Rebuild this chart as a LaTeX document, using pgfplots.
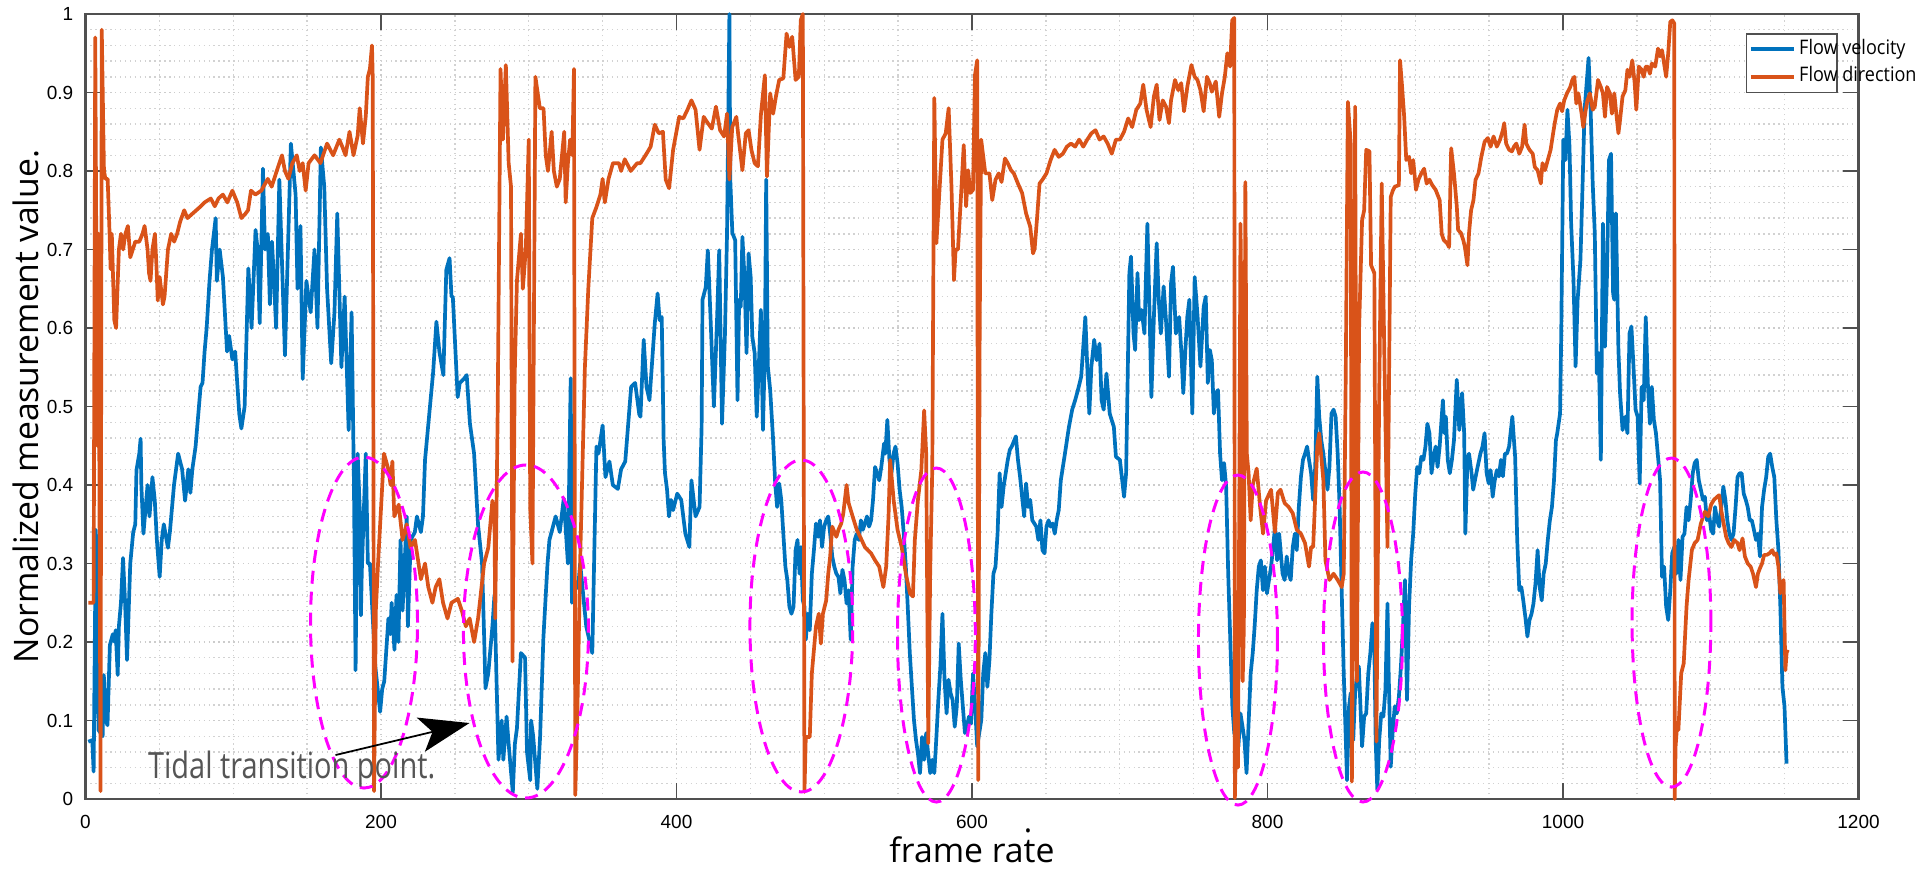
\documentclass[border=0pt]{standalone}
\usepackage{pgfplots}
\pgfplotsset{compat=1.18}
\usepackage{fontspec}
\setmainfont{Open Sans}
\newfontfamily\tickfont{Liberation Sans}
\usetikzlibrary{arrows.meta}
\definecolor{mblue}{RGB}{0,114,189}
\definecolor{morange}{RGB}{217,83,25}
\definecolor{axgray}{RGB}{80,80,80}
\definecolor{ellmag}{RGB}{255,0,255}

\begin{document}
\begin{tikzpicture}
\useasboundingbox (0,0) rectangle (19.2,8.79);
\begin{axis}[
    at={(0.855cm,0.80cm)}, anchor=south west,
    scale only axis, width=17.73cm, height=7.85cm,
    xmin=0, xmax=1200, ymin=0, ymax=1,
    xtick={0,200,...,1200},
    ytick={0,0.1,0.2,0.3,0.4,0.5,0.6,0.7,0.8,0.9,1},
    minor x tick num=3, minor y tick num=4,
    grid=both,
    major grid style={gray!40, densely dotted, line width=0.5pt},
    minor grid style={gray!35, densely dotted, line width=0.4pt},
    tick align=inside, major tick length=0.16cm, minor tick length=0pt,
    tick style={axgray, line width=0.5pt},
    axis line style={axgray, line width=0.6pt},
    clip=false, no markers,
    /pgf/number format/assume math mode=true,
    /pgf/number format/1000 sep={},
    ticklabel style={font=\tickfont\fontsize{5.4pt}{6pt}\selectfont},
    yticklabel style={anchor=east, inner sep=0pt, xshift=-0.115cm},
    xticklabel style={anchor=north, inner sep=0pt, yshift=-0.16cm},
    xlabel={frame rate},
    ylabel={Normalized measurement value.},
    label style={font=\fontsize{9.6pt}{11pt}\selectfont},
    xlabel style={at={(axis description cs:0.5,-0.0815)}, anchor=base},
    ylabel style={at={(axis description cs:-0.0265,0.5)}, anchor=base},
    legend style={at={(axis description cs:1,1)}, anchor=north west,
        xshift=-1.13cm, yshift=-0.19cm, draw=axgray, line width=0.5pt,
        fill=white, font=\fontsize{5.7pt}{6.5pt}\selectfont,
        inner xsep=0.7pt, inner ysep=0.5pt, row sep=0pt,
        nodes={inner sep=1pt}},
    legend cell align=left,
    legend image code/.code={\draw[#1, line width=1.1pt] (0cm,0cm) -- (0.43cm,0cm);},
]

% Flow velocity
\addplot[mblue, line width=1.05pt, line join=round] coordinates {
(1.9,0.073)(4.6,0.075)(5.5,0.035)(7.0,0.343)(8.8,0.088)(11.6,0.08)(12.4,0.158)(13.8,0.10)(14.9,0.094)(16.5,0.196)
(18.5,0.21)(19.8,0.20)(20.4,0.215)(21.8,0.158)(22.6,0.22)(24,0.25)(25.4,0.307)(26.8,0.25)(28.1,0.177)(30.3,0.30)
(32.3,0.34)(33.7,0.35)(34.5,0.419)(36.4,0.44)(37.3,0.459)(37.8,0.40)(39.2,0.338)(42,0.40)(43.3,0.36)(45.3,0.41)
(46.9,0.38)(48.3,0.33)(50.2,0.283)(51.6,0.33)(53,0.35)(55.8,0.32)(57.1,0.34)(59.9,0.40)(62.7,0.44)(65.4,0.42)
(67.4,0.38)(69.6,0.42)(71,0.39)(72.3,0.42)(74.5,0.449)(77.9,0.525)(79.2,0.53)(80.6,0.57)(82,0.60)(83.9,0.659)
(85.6,0.70)(88.1,0.740)(88.9,0.66)(90.8,0.70)(93,0.665)(95,0.597)(95.8,0.57)(97.2,0.59)(99.4,0.56)(101.3,0.57)
(102.7,0.53)(104.1,0.49)(105.5,0.472)(107.7,0.50)(109.1,0.597)(110.2,0.676)(111.6,0.63)(112.4,0.60)(115.1,0.725)(116.5,0.70)
(117.9,0.606)(120.1,0.803)(121.5,0.70)(123.4,0.72)(124.8,0.63)(126.2,0.71)(127.6,0.66)(129,0.60)(131.2,0.789)(135,0.565)
(139,0.835)(142.2,0.77)(143.5,0.65)(145.5,0.73)(147,0.535)(149.5,0.66)(152.4,0.62)(155,0.70)(157,0.60)(159.3,0.83)
(161.6,0.78)(163.5,0.65)(166.3,0.555)(168.5,0.62)(170.4,0.746)(173.2,0.55)(175.4,0.64)(178.1,0.47)(180.1,0.62)(181.7,0.40)
(182.8,0.164)(184.2,0.44)(185.6,0.37)(186.4,0.234)(187,0.29)(189.7,0.44)(191.1,0.30)(192.5,0.30)(193.9,0.25)(196.1,0.17)
(199.4,0.111)(200.8,0.14)(202.2,0.15)(205,0.23)(206.3,0.21)(207.2,0.25)(209.1,0.19)(210.5,0.26)(211.8,0.20)(213.2,0.33)
(214.6,0.24)(216,0.30)(217.4,0.36)(218.2,0.22)(220.1,0.33)(222.9,0.34)(224.3,0.36)(227,0.34)(228.4,0.36)(229.8,0.432)
(235.3,0.544)(237.5,0.608)(239.5,0.57)(242.2,0.54)(244.2,0.674)(246.4,0.689)(247.7,0.64)(248.6,0.64)(251.9,0.512)(253.3,0.53)
(256,0.535)(258,0.54)(260.2,0.478)(263,0.44)(265.7,0.349)(268.4,0.30)(269.8,0.207)(270.7,0.141)(272.6,0.16)(275.4,0.22)
(276.8,0.26)(279.5,0.05)(281.7,0.10)(282.8,0.05)(285,0.105)(286.4,0.07)(289.2,0.008)(290.6,0.07)(292,0.09)(294.7,0.186)
(297.5,0.18)(298.8,0.06)(301,0.024)(301.6,0.10)(303,0.08)(305.8,0.013)(307.7,0.08)(309.9,0.205)(312.7,0.30)(314,0.33)
(318.2,0.36)(321,0.34)(323.7,0.383)(326.5,0.30)(328.4,0.536)(329.2,0.25)(330.6,0.27)(333.4,0.269)(334.8,0.30)(338.9,0.22)
(343,0.186)(345.8,0.449)(347.2,0.44)(350,0.476)(351.9,0.41)(354.6,0.43)(356.9,0.40)(360.3,0.395)(362.5,0.42)(365.3,0.43)
(369.3,0.525)(372,0.53)(374.8,0.49)
(375.6,0.487)(377.8,0.585)(379.7,0.525)(381.7,0.508)(383.9,0.568)(385.3,0.606)(387.2,0.644)(388.6,0.610)(390,0.614)(391.3,0.457)
(392.2,0.415)(393.6,0.394)(394.9,0.360)(396.3,0.381)(397.7,0.368)(400.5,0.389)(403.2,0.381)(406,0.338)(408.7,0.321)(410.1,0.406)
(412.9,0.360)(415.6,0.372)(417,0.474)(417.6,0.636)(419.8,0.652)(421.2,0.699)(423.1,0.610)(425.3,0.500)(427.5,0.614)(428.9,0.699)
(430.8,0.478)(432.8,0.593)(434.2,0.721)(435.8,1.0)(436.4,0.789)(437.8,0.721)(439.7,0.712)(441.3,0.508)(442.4,0.636)(443.5,0.627)
(444.6,0.716)(446,0.665)(447.4,0.568)(448.8,0.695)(450.2,0.665)(451.3,0.589)(452.9,0.568)(454.3,0.487)(455.7,0.551)(457.1,0.623)
(458.5,0.470)(459.8,0.572)(460.7,0.789)(461.8,0.551)(463.4,0.521)(465.4,0.457)(466.8,0.402)(468.1,0.372)(469.5,0.402)(470.9,0.381)
(472.3,0.338)(473.7,0.296)(475,0.279)(476.4,0.245)(477.8,0.236)(479.2,0.245)(480.6,0.317)(481.9,0.330)(483.3,0.287)(484.2,0.321)
(485.5,0.253)(486.6,0.245)(487.5,0.203)(488.9,0.236)(490.2,0.215)(491.6,0.287)(493,0.317)(494.4,0.351)(495.8,0.334)(497.1,0.355)
(498.5,0.321)(499.9,0.347)(501.3,0.355)(502.7,0.360)(504,0.338)(505.4,0.309)(506.8,0.296)(508.2,0.287)(509.6,0.283)(510.9,0.262)
(512.3,0.292)(513.7,0.279)(515.1,0.249)(516.5,0.266)(517.9,0.203)(519.2,0.296)(520.6,0.330)(522,0.338)(523.4,0.330)(524.8,0.355)
(526.1,0.343)(527.5,0.351)(528.9,0.360)(530.3,0.347)(531.7,0.355)(533,0.381)(534.4,0.423)(535.8,0.415)(537.2,0.406)(538.6,0.423)
(540.5,0.453)(541.3,0.440)(542.7,0.483)(544.1,0.432)(545.5,0.415)(546.9,0.440)(548.2,0.449)(549.6,0.428)(551,0.394)(552.4,0.372)
(553.8,0.338)(555.2,0.296)(556.5,0.245)(557.9,0.186)(559.3,0.143)(560.7,0.101)(562.1,0.075)(563.4,0.058)(564.8,0.033)(566.2,0.079)
(567.6,0.050)(569,0.084)(570.3,0.058)(571.7,0.033)(573.1,0.050)(574.5,0.033)(575.9,0.079)(577.2,0.126)(578.6,0.169)(580,0.236)
(581.4,0.152)(582.8,0.109)(584.1,0.152)(585.5,0.135)(586.9,0.126)(588.3,0.092)(589.7,0.118)(591,0.198)(592.4,0.152)(593.8,0.118)
(595.2,0.084)(596.6,0.092)(597.9,0.105)(599.3,0.096)(600.7,0.160)(602.1,0.118)(603.5,0.067)(604.9,0.084)(606.3,0.101)(607.6,0.160)
(609,0.186)(610.4,0.143)(611.8,0.177)(613.1,0.236)(614.5,0.287)(615.9,0.296)(617.3,0.338)(618.7,0.415)(620,0.372)(621.4,0.398)
(622.8,0.415)(624.2,0.432)(625.6,0.445)(626.9,0.449)(629.7,0.462)(631.1,0.432)(632.5,0.411)(633.9,0.385)(635.3,0.360)(636.6,0.402)
(638,0.372)(639.4,0.381)(640.8,0.355)(642.2,0.351)(643.5,0.347)(644.9,0.330)(646.3,0.355)(647.7,0.317)(649.1,0.313)(650.4,0.347)
(651.8,0.355)(653.2,0.347)(654.6,0.351)(656,0.338)(657.3,0.355)(658.7,0.368)(660.1,0.406)(661.5,0.423)(662.9,0.440)(665.6,0.474)
(667.8,0.496)(669.8,0.508)(671.7,0.521)(673.9,0.538)(676.7,0.614)(678,0.551)(679.4,0.491)(680.8,0.551)(682.7,0.585)(684.4,0.559)
(686.3,0.580)(687.7,0.508)(689.1,0.496)(691,0.542)(693.2,0.491)(696,0.474)(697.4,0.436)(700.1,0.432)(702.9,0.385)(704.3,0.415)
(706.5,0.670)(707.6,0.691)(709.3,0.593)(710.4,0.572)(712,0.670)(713.1,0.610)(714.8,0.623)(716.7,0.593)(718.7,0.733)(720.3,0.610)
(721.4,0.512)(723.1,0.614)(725,0.708)(726.4,0.636)(727.8,0.593)(729.7,0.653)(731.3,0.610)(733.3,0.538)(734.7,0.657)(736,0.678)
(738,0.593)(740.2,0.614)(741.6,0.572)(743,0.517)(744.4,0.572)(745.7,0.614)(747.1,0.636)(749.1,0.491)(750.7,0.665)(752.7,0.614)
(754.6,0.551)(756.8,0.627)(758.2,0.640)(759.6,0.530)(761,0.572)(762.3,0.559)(763.7,0.491)(765.1,0.517)(766.5,0.521)(767.9,0.440)
(769.2,0.406)(770.6,0.428)(772,0.398)(773.4,0.287)(774.8,0.203)(776.2,0.118)(777.5,0.084)(778.9,0.075)(780.3,0.067)(781.7,0.109)
(783.1,0.092)(784.4,0.075)(785.8,0.033)(787.2,0.096)(788.6,0.160)(790,0.186)(791.3,0.220)(792.7,0.266)(794.1,0.296)(795.5,0.304)
(796.9,0.266)(798.2,0.296)(799.6,0.262)(801,0.279)(802.4,0.296)(803.8,0.321)(805.1,0.347)(806.5,0.304)(807.9,0.338)
(808.8,0.317)(810.2,0.287)(811.6,0.279)(813,0.309)(814.3,0.287)(815.7,0.279)(817.1,0.321)(818.5,0.338)(819.8,0.317)(821.2,0.372)
(822.6,0.41)(824,0.432)(825.4,0.44)(826.8,0.449)(828.1,0.432)(829.5,0.415)(830.9,0.381)(832.3,0.423)(833.7,0.538)(835,0.487)
(836.4,0.457)(837.8,0.44)(840.6,0.394)(841.9,0.423)(843.3,0.491)(844.7,0.496)(846.1,0.487)(847.5,0.44)(848.8,0.372)(850.2,0.266)
(851.6,0.16)(853,0.075)(853.8,0.024)(855.2,0.118)(856.3,0.135)(858,0.075)(859.3,0.135)(860.7,0.160)(861.8,0.169)(862.9,0.118)
(864,0.067)(865.4,0.105)(866.8,0.109)(868.2,0.160)(869.6,0.186)(871,0.224)(872.3,0.194)(873.2,0.075)(874.3,0.012)(875.6,0.075)
(877,0.109)(878.4,0.105)(879.8,0.139)(881.2,0.249)(882,0.160)(883.4,0.041)(884.8,0.088)(886.1,0.118)(887.5,0.109)(888.9,0.130)
(890.3,0.169)(891.7,0.22)(893,0.279)(894.4,0.126)(895.8,0.245)(897.2,0.304)(898.6,0.338)(900,0.389)(901.3,0.423)(902.7,0.415)
(904.1,0.436)(905.5,0.432)(906.9,0.449)(908.2,0.478)(909.6,0.466)(911,0.415)(912.4,0.436)(913.8,0.449)(915.1,0.423)(916.5,0.449)
(918.7,0.508)(919.8,0.466)(920.7,0.487)(922,0.432)(923.4,0.415)(924.8,0.432)(926.2,0.457)(928.1,0.534)(929.8,0.470)(931.7,0.517)
(933.1,0.466)(933.9,0.338)(935.3,0.432)(936.4,0.44)(938.1,0.415)(939.2,0.394)(940.8,0.41)(942.2,0.423)(944.1,0.44)(945.5,0.449)
(946.9,0.466)(948.3,0.415)(949.7,0.402)(951,0.419)(952.4,0.385)(953.8,0.406)(955.2,0.419)(956.6,0.411)(958,0.432)(959.3,0.411)
(960.7,0.44)(962.1,0.44)(963.5,0.449)(965.7,0.487)(966.8,0.457)(967.6,0.436)(969,0.33)(970.4,0.266)(971.8,0.27)(973.1,0.253)
(974.5,0.232)(975.9,0.207)(977.3,0.228)(978.7,0.236)(980,0.249)(981.4,0.275)(982.8,0.317)(984.2,0.27)(985.6,0.253)(986.9,0.287)
(988.3,0.30)(989.7,0.33)(991.1,0.355)(992.5,0.372)(993.9,0.406)(995.2,0.457)(996.1,0.466)(998,0.491)(998.8,0.593)(1000.2,0.840)
(1001.6,0.814)(1003,0.878)(1004.4,0.831)(1005.5,0.733)(1007.1,0.661)(1008.5,0.551)(1009.9,0.636)(1011.8,0.687)(1013.2,0.780)(1014.6,0.878)
(1016,0.912)(1017.3,0.944)(1018.7,0.878)(1020.1,0.784)(1021.5,0.721)(1022.9,0.542)(1024.2,0.568)(1025.6,0.432)(1027,0.733)(1028.4,0.576)
(1029.8,0.670)(1031.1,0.814)(1032.5,0.822)(1033.9,0.644)(1034.7,0.636)(1035.8,0.746)(1037.5,0.572)(1038.6,0.517)(1040.3,0.470)(1042.2,0.487)
(1043.6,0.466)(1045,0.593)(1046.3,0.602)(1047.7,0.551)(1049.1,0.496)(1050.5,0.487)(1051.9,0.402)(1053.2,0.525)(1054.6,0.508)(1056,0.614)
(1057.4,0.530)(1058.8,0.478)(1060.1,0.525)(1061.5,0.483)(1062.9,0.466)(1064.3,0.436)(1065.7,0.406)(1067,0.283)(1068.4,0.296)(1069.8,0.245)
(1071.2,0.228)(1072.6,0.266)(1073.9,0.313)(1075.3,0.321)(1076.7,0.287)(1078.1,0.33)(1079.5,0.279)(1080.9,0.334)(1082.2,0.338)(1083.6,0.372)
(1085,0.355)(1086.4,0.381)(1087.8,0.415)(1089.1,0.428)(1090.5,0.432)(1091.9,0.406)(1093.3,0.394)(1094.7,0.381)(1096,0.385)(1097.4,0.355)
(1098.8,0.364)(1100.2,0.343)(1101.6,0.338)(1102.9,0.372)(1104.3,0.355)(1105.7,0.347)(1107.1,0.372)(1108.5,0.398)(1109.9,0.381)(1111.2,0.355)
(1112.6,0.338)(1114,0.33)(1115.4,0.338)(1116.8,0.372)(1118.1,0.41)(1119.5,0.415)(1120.9,0.415)(1122.3,0.389)(1123.7,0.381)(1125,0.372)
(1126.4,0.355)(1127.8,0.355)(1129.2,0.343)(1130.6,0.33)(1131.9,0.338)(1133.3,0.309)(1134.7,0.372)(1136.1,0.394)(1137.5,0.41)(1138.9,0.436)
(1140.2,0.44)(1141.6,0.423)(1143,0.41)(1144.4,0.355)(1145.8,0.317)(1147.1,0.245)(1148.5,0.143)(1149.9,0.118)(1151.3,0.045)
};
\addlegendentry{\makebox[0.32cm][l]{\scalebox{0.9}[1]{Flow velocity}}}

% Flow direction
\addplot[morange, line width=1.05pt, line join=round] coordinates {
(2,0.25)(5.5,0.25)(6.6,0.97)(8,0.45)(8.8,0.72)(10.2,0.01)(11,0.98)(12.5,0.80)(13.5,0.79)(15,0.79)
(16.3,0.72)(17,0.675)(17.8,0.72)(19.5,0.61)(20.7,0.60)(22.6,0.70)(24,0.72)(25.5,0.70)(27,0.72)(28.7,0.73)
(30.3,0.69)(32,0.70)(33.7,0.71)(36.4,0.71)(38.6,0.72)(40,0.73)(42,0.70)(43,0.67)(44,0.66)(45.3,0.70)
(47,0.72)(48,0.68)(48.9,0.635)(50.2,0.665)(52.4,0.63)(53.5,0.64)(55.8,0.70)(58,0.72)(60,0.71)(62,0.72)
(64,0.735)(66.8,0.75)(69,0.74)(72,0.745)(75,0.75)(78,0.755)(80.6,0.76)(84.8,0.765)(87.5,0.755)(90,0.765)
(93,0.77)(96,0.76)(99.4,0.775)(102.7,0.76)(105.5,0.74)(108,0.745)(110,0.75)(112,0.775)(115,0.77)(119,0.775)
(123.4,0.79)(126,0.78)(130.3,0.805)(133,0.82)(135,0.80)(137.3,0.79)(140,0.81)(143,0.82)(145,0.80)(147,0.81)
(149,0.775)(151,0.81)(155,0.82)(159,0.81)(163.5,0.835)(167.6,0.82)(171.8,0.84)(174,0.83)(176,0.82)(178.7,0.85)
(181.4,0.82)(184.2,0.845)(185.6,0.88)(187.8,0.835)(189.7,0.87)(191.1,0.92)(192.5,0.93)(193.9,0.96)(194.4,0.92)(195.3,0.01)
(196.5,0.24)(198,0.30)(202,0.44)(205,0.42)(206.5,0.40)(207.7,0.43)(209,0.36)(212,0.375)(214.6,0.33)(217.4,0.35)
(220,0.32)(223,0.33)(227,0.28)(229.8,0.30)(232,0.27)(234.8,0.25)(237,0.27)(239.5,0.28)(242,0.25)(245,0.23)
(247.7,0.25)(252,0.255)(254.7,0.24)(257.4,0.22)(260,0.23)(263,0.20)(265.7,0.23)(269.8,0.30)(272.6,0.32)(275.4,0.38)
(276.8,0.36)(277.3,0.23)(279,0.50)(280.9,0.93)(282.5,0.84)(284.5,0.935)(286.4,0.81)(288,0.78)(289,0.175)(290.5,0.54)
(292,0.66)(294.7,0.72)(296,0.65)(298,0.70)(300,0.84)(301,0.37)(302.5,0.30)(304.5,0.92)(306,0.90)(307.5,0.88)
(310,0.88)(311.5,0.82)(313,0.80)(315.5,0.85)(317,0.80)(319,0.78)(321,0.79)(324,0.85)(325,0.76)(326.5,0.81)
(328,0.84)(329.5,0.82)(330.6,0.93)(331.5,0.005)(333,0.12)(335,0.32)(338,0.55)(340.3,0.65)(343,0.74)(345.8,0.754)
(348.5,0.77)(350,0.79)(351.5,0.76)(354,0.79)(357,0.81)(361,0.81)(362.5,0.80)(365,0.815)(369,0.80)(373.4,0.81)
(375.6,0.810)(379.7,0.822)(382.5,0.831)(385.3,0.859)(388,0.848)(390.8,0.850)(392.7,0.789)(395,0.778)(397.7,0.827)(401.8,0.869)
(404.6,0.867)(407.4,0.878)(410.1,0.890)(412.9,0.878)(415.6,0.827)(418.4,0.869)(421.2,0.861)(423.9,0.854)(426.7,0.882)(429.5,0.852)
(432.2,0.844)(434.2,0.873)(435.8,0.789)(437.7,0.856)(440.5,0.869)(441.9,0.844)(444.6,0.801)(446.9,0.848)(448.8,0.852)(450.7,0.827)
(452.9,0.810)(455.1,0.806)(457.1,0.871)(459.8,0.922)(461.2,0.793)(463.4,0.899)(465.4,0.873)(467.3,0.895)(469.5,0.916)(472.3,0.918)
(474.5,0.975)(476.4,0.958)(478.3,0.971)(480.6,0.916)(482.8,0.920)(484.1,0.992)(485.5,1.0)(486.6,0.009)(487.5,0.079)(490.2,0.079)
(491.6,0.160)(494.4,0.220)(496.3,0.236)(497.7,0.198)(499.1,0.236)(501.3,0.253)(502.7,0.287)(504,0.309)(505.4,0.347)(508.2,0.334)
(509.6,0.343)(511.5,0.351)(512.9,0.364)(515.1,0.400)(516.5,0.377)(519.2,0.360)(522,0.343)(524.8,0.332)(527.5,0.321)(531.7,0.313)
(534.4,0.304)(537.2,0.296)(540,0.270)(541.9,0.296)(543.5,0.360)(544.6,0.432)(547,0.38)(549.6,0.343)(552.4,0.321)(555.2,0.287)
(558,0.262)(560,0.258)(561.3,0.33)(563.4,0.381)(565.7,0.419)(567.6,0.495)(569,0.44)(570.4,0.071)(571.7,0.29)(573.1,0.42)
(574.5,0.893)(575.9,0.708)(580,0.84)(582.2,0.848)(584.2,0.88)(586.1,0.78)(587.8,0.661)(588.9,0.70)(590.5,0.70)(592.4,0.763)
(594.4,0.833)(596,0.755)(597.4,0.801)(598.8,0.772)(600.7,0.776)(602,0.922)(603.5,0.941)(604.2,0.024)(605.2,0.60)(606.2,0.840)
(609,0.797)(611.8,0.797)(613.7,0.763)(615.9,0.789)(618.1,0.797)(620,0.786)(622.3,0.816)(624.2,0.810)(626.4,0.801)(628.3,0.797)
(631.1,0.784)(633.9,0.772)(636.6,0.746)(639.4,0.729)(641.3,0.695)(642.4,0.701)(644.1,0.742)(645.7,0.784)(647.7,0.789)(650.4,0.797)
(653.2,0.814)(655.9,0.827)(658.7,0.818)(661.5,0.822)(664.2,0.831)(667,0.835)(669.8,0.831)(672.5,0.840)(675.3,0.831)(678,0.840)
(680.8,0.848)(683.6,0.852)(686.3,0.840)(689.1,0.844)(691.8,0.835)(694.6,0.822)(697.4,0.840)(700.1,0.840)(702.9,0.850)(705.7,0.867)
(708.4,0.856)(711.2,0.878)(713.9,0.886)(715.9,0.910)(718.1,0.878)(720.9,0.856)(723.1,0.895)(725,0.910)(726.9,0.865)(729.1,0.890)
(731.3,0.882)(733.3,0.861)(734.7,0.890)(737.4,0.916)(739.6,0.903)(741.6,0.912)(743.5,0.876)(745.7,0.907)(748.5,0.935)(750.7,0.920)
(752.6,0.916)(754.6,0.903)(756.8,0.876)(759,0.920)(760.9,0.912)(762.3,0.901)(765,0.914)(767.3,0.869)(769.2,0.899)(771.1,0.920)
(772.8,0.950)(774.7,0.933)(776.1,0.992)(777.5,0.995)(777.9,0.001)(779,0.10)(780,0.04)(781,0.42)(781.7,0.733)(782.5,0.60)
(783.2,0.15)(784,0.22)(785,0.786)(786,0.44)(787.2,0.415)(788.6,0.355)(790,0.40)(792.7,0.421)(795,0.372)(797,0.338)
(799,0.38)(802.4,0.394)(805,0.34)(807,0.39)
(808.8,0.394)(811.6,0.377)(814.3,0.372)(817.1,0.364)(819.8,0.343)(822.6,0.338)(825.4,0.326)(828.1,0.296)(829.5,0.321)(830.9,0.321)
(833.7,0.45)(835,0.466)(837.8,0.406)(839.2,0.304)(841.9,0.279)(844.7,0.287)(847.5,0.279)(850.2,0.270)(851.6,0.287)(853,0.55)
(854.4,0.888)(856.3,0.835)(857.1,0.022)(858.5,0.40)(859.3,0.882)(860.5,0.15)(862,0.60)(864,0.737)(865.4,0.750)(866.8,0.827)
(869,0.825)(870.1,0.680)(872.3,0.670)(873.7,0.073)(875.5,0.50)(877.3,0.784)(879.2,0.55)(881.2,0.321)(883.4,0.767)(884.8,0.775)
(886.1,0.780)(888.9,0.782)(889.7,0.941)(891.1,0.907)(892.5,0.869)(893.9,0.814)(895.8,0.818)(897.2,0.797)(898.6,0.814)(900.5,0.776)
(902.2,0.789)(904.1,0.797)(906,0.803)(907.7,0.784)(909.6,0.789)(911.5,0.782)(913.8,0.776)(916.5,0.763)(917.9,0.720)(919.3,0.712)
(921.5,0.708)(922.9,0.703)(924.3,0.829)(926.2,0.797)(928.1,0.755)(929,0.725)(930.9,0.721)(932.5,0.712)(933.6,0.703)(935.3,0.680)
(936.4,0.721)(937.8,0.750)(939.4,0.763)(940.8,0.789)(942.8,0.797)(944.7,0.818)(946.9,0.837)(949.1,0.842)(951,0.831)(953,0.844)
(955.2,0.831)(957.4,0.840)(959.3,0.852)(960.2,0.861)(961.5,0.835)(963.5,0.827)(965.4,0.825)(966.8,0.831)(968.4,0.835)(970.4,0.822)
(972.3,0.831)(974,0.859)(975.1,0.835)(977.3,0.827)(979.5,0.822)(980.9,0.805)(982.8,0.801)(985,0.784)(986.1,0.810)(987.8,0.801)
(989.7,0.814)(991.6,0.827)(993.3,0.848)(994.4,0.861)(996.1,0.878)(998,0.886)(999.4,0.876)(1000.8,0.890)(1002.7,0.899)(1004.9,0.907)
(1006.3,0.916)(1007.7,0.920)(1009,0.886)(1010.4,0.899)(1012.6,0.873)(1013.7,0.856)(1015.4,0.878)(1016.5,0.890)(1018.2,0.899)(1020.1,0.878)
(1021.5,0.882)(1023.7,0.916)(1025.6,0.907)(1027,0.899)(1028.4,0.869)(1029.8,0.907)(1031.7,0.899)(1033.1,0.873)(1034.7,0.899)(1035.8,0.878)
(1037.5,0.848)(1038.6,0.865)(1040.3,0.895)(1042.2,0.903)(1043.6,0.929)(1045,0.920)(1046.9,0.941)(1048.5,0.912)(1049.6,0.878)(1051.3,0.933)
(1053.2,0.929)(1054.6,0.920)(1056,0.933)(1057.4,0.933)(1058.8,0.924)(1060.1,0.937)(1062.4,0.933)(1064.3,0.956)(1065.7,0.946)(1067,0.954)
(1068.4,0.937)(1069.8,0.920)(1071.2,0.950)(1072.6,0.990)(1074,0.992)(1075.3,0.988)(1075.6,0.0)(1076.2,0.067)(1077.3,0.096)(1078.1,0.088)
(1080,0.160)(1081.7,0.173)(1083.6,0.245)(1085,0.279)(1087.2,0.317)(1089.1,0.326)(1091.1,0.330)(1093.3,0.351)(1096,0.366)(1098.3,0.360)
(1100.2,0.375)(1102.1,0.381)(1104.3,0.385)(1105.7,0.387)(1107.1,0.368)(1108.5,0.353)(1110.4,0.334)(1112.1,0.326)(1114,0.321)(1115.9,0.330)
(1118.1,0.326)(1119.5,0.317)(1121.5,0.332)(1123.1,0.309)(1125,0.300)(1127,0.296)(1128.6,0.287)(1130.6,0.270)(1131.9,0.287)(1133.3,0.294)
(1134.7,0.300)(1136.1,0.311)(1138,0.311)(1139.7,0.313)(1141.6,0.317)(1143,0.311)(1144.4,0.313)(1145.8,0.296)(1147.1,0.262)(1148.5,0.275)
(1149.3,0.279)(1150.5,0.164)(1151.3,0.186)(1152.1,0.190)
};
\addlegendentry{\makebox[0.32cm][l]{\scalebox{0.9}[1]{Flow direction}}}

% tidal transition regions
\begin{scope}[ellmag, line width=0.85pt, dash pattern=on 0.13cm off 0.08cm]
\draw (axis cs:188.5,0.2248) ellipse [x radius=0.535cm, y radius=1.655cm];
\draw (axis cs:298.1,0.2134) ellipse [x radius=0.625cm, y radius=1.665cm];
\draw (axis cs:484.5,0.2204) ellipse [x radius=0.514cm, y radius=1.66cm];
\draw (axis cs:575.9,0.2089) ellipse [x radius=0.389cm, y radius=1.67cm];
\draw (axis cs:780.0,0.2025) ellipse [x radius=0.395cm, y radius=1.65cm];
\draw (axis cs:864.6,0.2064) ellipse [x radius=0.395cm, y radius=1.65cm];
\draw (axis cs:1073.4,0.2248) ellipse [x radius=0.394cm, y radius=1.645cm];
\end{scope}

\draw[black, line width=0.5pt, -{Stealth[length=0.5cm, width=0.35cm, inset=0.12cm]}]
    (axis cs:169.2,0.056) -- (axis cs:259.9,0.0968);
\node[anchor=base west, inner sep=0pt, text={rgb,255:red,85;green,85;blue,85},
      font=\fontsize{10.3pt}{12pt}\selectfont, xscale=0.80]
    at (axis cs:42,0.0255) {Tidal transition point.};
\node[inner sep=0pt, font=\fontsize{9pt}{10pt}\selectfont] at (axis cs:638,-0.040) {.};
\end{axis}
\end{tikzpicture}
\end{document}
